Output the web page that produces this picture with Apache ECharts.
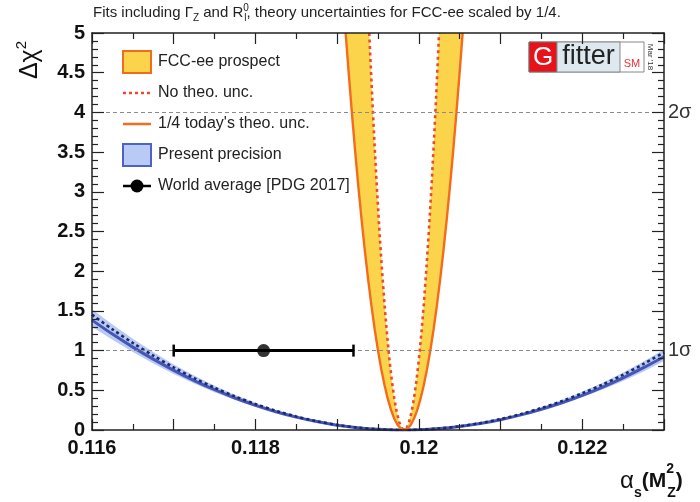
<!DOCTYPE html>
<html><head><meta charset="utf-8">
<script src="https://cdn.jsdelivr.net/npm/echarts@6/dist/echarts.min.js"></script>
<style>html,body{margin:0;padding:0;background:#fff}#c{width:700px;height:502px}</style>
</head><body><div id="c"></div>
<script>
// ---------------- data ----------------
// FCC-ee prospect, "1/4 today's theo. unc." (solid orange, outer curve)
const fccSolidX = [0.119104,0.11914,0.11918,0.11922,0.11926,0.11930,0.11934,0.11938,0.11942,0.11946,0.11950,0.11954,0.11958,0.11962,0.11966,0.11970,0.11974,0.11978,0.11982,0.11986,0.11990,0.11994,0.11998,0.12002,0.12006,0.12010,0.12014,0.12018,0.12022,0.12026,0.12030,0.12034,0.12038,0.12042,0.12046,0.12050,0.120536];
const fccSolidY = [5.0,4.516,4.0,3.516,3.063,2.641,2.25,1.891,1.563,1.266,1.0,0.766,0.563,0.391,0.25,0.141,0.063,0.016,0,0.016,0.063,0.141,0.25,0.391,0.563,0.766,1.0,1.266,1.563,1.891,2.25,2.641,3.063,3.516,4.0,4.516,5.0];
// FCC-ee prospect, "No theo. unc." (dotted, inner curve)
const fccDotX = [0.119393,0.11940,0.11943,0.11946,0.11949,0.11952,0.11955,0.11958,0.11961,0.11964,0.11967,0.11970,0.11973,0.11976,0.11979,0.11982,0.11985,0.11988,0.11991,0.11994,0.11997,0.12000,0.12003,0.12006,0.12009,0.12012,0.12015,0.12018,0.12021,0.12024,0.120247];
const fccDotY = [5.0,4.835,4.169,3.553,2.985,2.467,1.998,1.579,1.209,0.888,0.617,0.395,0.222,0.099,0.025,0,0.025,0.099,0.222,0.395,0.617,0.888,1.209,1.579,1.998,2.467,2.985,3.553,4.169,4.835,5.0];
// Present precision
const presentX = [0.11600,0.11625,0.11650,0.11675,0.11700,0.11725,0.11750,0.11775,0.11800,0.11825,0.11850,0.11875,0.11900,0.11925,0.11950,0.11975,0.12000,0.12025,0.12050,0.12075,0.12100,0.12125,0.12150,0.12175,0.12200,0.12225,0.12250,0.12275,0.12300];
const presentSolidY = [1.384,1.208,1.044,0.892,0.751,0.623,0.507,0.403,0.311,0.230,0.162,0.106,0.061,0.029,0.009,0.0002,0.0036,0.018,0.044,0.081,0.130,0.190,0.261,0.343,0.437,0.541,0.657,0.785,0.923];
const presentDotY = [1.453,1.268,1.096,0.937,0.789,0.654,0.532,0.423,0.327,0.242,0.170,0.111,0.064,0.030,0.009,0.0002,0.0038,0.019,0.047,0.086,0.138,0.201,0.277,0.364,0.463,0.573,0.696,0.832,0.978];
const presentBandLo = [1.301,1.136,0.981,0.838,0.706,0.586,0.477,0.379,0.292,0.216,0.152,0.100,0.057,0.027,0.008,0.0002,0.0034,0.017,0.041,0.076,0.122,0.179,0.245,0.322,0.411,0.509,0.618,0.738,0.868];
const presentBandHi = [1.522,1.329,1.148,0.981,0.826,0.685,0.558,0.443,0.342,0.253,0.178,0.117,0.067,0.032,0.010,0.0002,0.004,0.020,0.048,0.089,0.143,0.209,0.287,0.377,0.481,0.595,0.723,0.864,1.015];
// World average [PDG 2017]
const worldAvgX = [0.1181];
const worldAvgLo = [0.1170];
const worldAvgHi = [0.1192];
const worldAvgY = [1];
// sigma reference levels
const sigmaLevels = [1, 4];
const sigmaLabels = ['1σ', '2σ'];
// legend entries
const legendNames = ['FCC-ee prospect', 'No theo. unc.', "1/4 today's theo. unc.", 'Present precision', 'World average [PDG 2017]'];

// ---------------- styling ----------------
const C = {
  yellow: '#fcd44c', orange: '#f36c1e', dotOrange: '#ea4b2b',
  blueBand: '#b9cbf4', blue: '#4656b8', blueDot: '#1c2a6c', legBlueBorder: '#4d62c4',
  axis: '#222'
};
const FONT = "'Liberation Sans', Arial, Helvetica, sans-serif";
const NARROW = "'Liberation Sans Narrow', 'Arial Narrow', 'Liberation Sans', sans-serif";

const zip = (xs, ys) => xs.map((x, i) => [x, ys[i]]);

function bandSeries(name, xs1, ys1, xs2, ys2, fill, z) {
  return {
    type: 'custom', name, coordinateSystem: 'cartesian2d', z, silent: true,
    data: [[xs1[0], ys1[0]]],
    renderItem(params, api) {
      const pts = [];
      for (let i = 0; i < xs1.length; i++) pts.push(api.coord([xs1[i], ys1[i]]));
      for (let i = xs2.length - 1; i >= 0; i--) pts.push(api.coord([xs2[i], ys2[i]]));
      return { type: 'polygon', shape: { points: pts }, style: { fill: fill, stroke: null } };
    }
  };
}

const tickCommon = (showLabel) => ({
  type: 'value', min: 0.116, max: 0.123, interval: 0.001,
  axisLine: { show: true, onZero: false, lineStyle: { color: C.axis, width: 1.5 } },
  axisTick: { show: true, inside: true, length: 11, lineStyle: { color: C.axis, width: 1.2 } },
  minorTick: { show: true, splitNumber: 2, length: 6, lineStyle: { color: C.axis, width: 1.2 } },
  splitLine: { show: false }, minorSplitLine: { show: false },
  axisLabel: {
    show: showLabel, margin: 8, color: '#111', fontFamily: FONT, fontWeight: 'bold', fontSize: 20,
    formatter: v => (Math.round(v * 1000) % 2 === 0 ? String(parseFloat(v.toFixed(3))) : '')
  }
});
const yCommon = (showLabel) => ({
  type: 'value', min: 0, max: 5, interval: 0.5,
  axisLine: { show: true, onZero: false, lineStyle: { color: C.axis, width: 1.5 } },
  axisTick: { show: true, inside: true, length: 12, lineStyle: { color: C.axis, width: 1.2 } },
  minorTick: { show: true, splitNumber: 5, length: 6, lineStyle: { color: C.axis, width: 1.2 } },
  splitLine: { show: false }, minorSplitLine: { show: false },
  axisLabel: { show: showLabel, margin: 7, color: '#111', fontFamily: FONT, fontWeight: 'bold', fontSize: 20 }
});

// ---------------- legend (graphic) ----------------
const LX = 123, LT = 62, LS = 31, TX = 158;
const legendGraphics = [];
legendGraphics.push({ type: 'rect', shape: { x: LX, y: LT - 11, width: 28, height: 22 }, style: { fill: C.yellow, stroke: C.orange, lineWidth: 2 } });
legendGraphics.push({ type: 'line', shape: { x1: LX, y1: LT + LS, x2: LX + 28, y2: LT + LS }, style: { stroke: C.dotOrange, lineWidth: 2.5, lineDash: [3, 3] } });
legendGraphics.push({ type: 'line', shape: { x1: LX, y1: LT + 2 * LS, x2: LX + 28, y2: LT + 2 * LS }, style: { stroke: C.orange, lineWidth: 2.5 } });
legendGraphics.push({ type: 'rect', shape: { x: LX, y: LT + 3 * LS - 11, width: 28, height: 22 }, style: { fill: C.blueBand, stroke: C.legBlueBorder, lineWidth: 2 } });
legendGraphics.push({ type: 'line', shape: { x1: LX, y1: LT + 4 * LS, x2: LX + 28, y2: LT + 4 * LS }, style: { stroke: '#000', lineWidth: 2.5 } });
legendGraphics.push({ type: 'circle', shape: { cx: LX + 14, cy: LT + 4 * LS, r: 6.5 }, style: { fill: '#000' } });
legendNames.forEach((n, i) => legendGraphics.push({
  type: 'text', x: TX, y: LT + i * LS,
  style: { text: n, fill: '#222', font: '16px ' + FONT, verticalAlign: 'middle', align: 'left' }
}));

// ---------------- logo ----------------
const logo = [
  { type: 'rect', shape: { x: 529, y: 42, width: 115, height: 30 }, style: { fill: '#fff', stroke: '#888', lineWidth: 1 } },
  { type: 'rect', shape: { x: 529, y: 42, width: 28, height: 30 }, style: { fill: '#e8121b', stroke: '#777', lineWidth: 1 } },
  { type: 'text', x: 543, y: 57.5, style: { text: 'G', fill: '#fff', font: '26px ' + FONT, align: 'center', verticalAlign: 'middle' } },
  { type: 'rect', shape: { x: 557, y: 42, width: 63, height: 30 }, style: { fill: '#dde9ee', stroke: '#888', lineWidth: 1 } },
  { type: 'text', x: 588.5, y: 57, style: { text: 'fitter', fill: '#222', font: '27px ' + FONT, align: 'center', verticalAlign: 'middle' } },
  { type: 'text', x: 632, y: 64, style: { text: 'SM', fill: '#e8303a', font: '11px ' + FONT, align: 'center', verticalAlign: 'middle' } },
  { type: 'text', x: 650, y: 57, rotation: -Math.PI / 2, style: { text: "Mar '18", fill: '#333', font: '8px ' + FONT, align: 'center', verticalAlign: 'middle' } }
];

// ---------------- titles ----------------
const texts = [
  { type: 'text', left: 93, top: 3, style: {
      text: 'Fits including Γ{sub|Z} and R{sup|0}{sub|l}, theory uncertainties for FCC-ee scaled by 1/4.',
      fill: '#222', font: '15px ' + NARROW, lineHeight: 20,
      rich: { sub: { fontSize: 10, fontFamily: NARROW, verticalAlign: 'bottom', lineHeight: 20, fill: '#222' },
              sup: { fontSize: 10, fontFamily: NARROW, verticalAlign: 'top', lineHeight: 20, fill: '#222', width: 1 } }
  } },
  { type: 'text', x: 30, y: 60, rotation: Math.PI / 2, style: {
      text: 'Δχ{s|2}', fill: '#111', font: '25px ' + FONT, align: 'center', verticalAlign: 'middle', lineHeight: 32,
      rich: { s: { fontSize: 15, fontFamily: FONT, verticalAlign: 'top', lineHeight: 32, fill: '#111' } }
  } },
  { type: 'text', left: 620, top: 462, style: {
      text: '{a|α}{s|s}{b|(M}{sup|2}{sub|Z}{b|)}', fill: '#111', lineHeight: 38,
      rich: {
        a: { fontSize: 24, fontFamily: FONT, fill: '#111', lineHeight: 38 },
        s: { fontSize: 14, fontFamily: FONT, fontWeight: 'bold', fill: '#111', verticalAlign: 'bottom', lineHeight: 34 },
        b: { fontSize: 21, fontFamily: FONT, fontWeight: 'bold', fill: '#111', lineHeight: 38 },
        sup: { fontSize: 14, fontFamily: FONT, fontWeight: 'bold', fill: '#111', verticalAlign: 'top', lineHeight: 38, width: 1 },
        sub: { fontSize: 14, fontFamily: FONT, fontWeight: 'bold', fill: '#111', verticalAlign: 'bottom', lineHeight: 38 }
      }
  } }
];

const chart = echarts.init(document.getElementById('c'), null, { renderer: 'canvas' });
chart.setOption({
  animation: false,
  backgroundColor: '#fff',
  grid: { left: 92, right: 36, top: 33, bottom: 72, containLabel: false },
  xAxis: [Object.assign(tickCommon(true), { position: 'bottom', z: 8 }), Object.assign(tickCommon(false), { position: 'top', z: 8 })],
  yAxis: [Object.assign(yCommon(true), { position: 'left', z: 8 }), Object.assign(yCommon(false), { position: 'right', z: 8 })],
  series: [
    bandSeries('FCC-ee prospect', fccSolidX, fccSolidY, fccDotX, fccDotY, C.yellow, 1),
    bandSeries('Present precision', presentX, presentBandLo, presentX, presentBandHi, C.blueBand, 1),
    { type: 'line', name: 'Present precision (theo.)', data: zip(presentX, presentSolidY), smooth: 0.3, symbol: 'none', z: 3,
      lineStyle: { color: C.blue, width: 3 } },
    { type: 'line', name: 'Present precision (no theo.)', data: zip(presentX, presentDotY), smooth: 0.3, symbol: 'none', z: 3,
      lineStyle: { color: C.blueDot, width: 2.6, type: [3, 3] } },
    { type: 'line', name: 'No theo. unc.', data: zip(fccDotX, fccDotY), symbol: 'none', z: 4,
      lineStyle: { color: C.dotOrange, width: 2.6, type: [3, 3.5] } },
    { type: 'line', name: "1/4 today's theo. unc.", data: zip(fccSolidX, fccSolidY), symbol: 'none', z: 4,
      lineStyle: { color: C.orange, width: 2.4 } },
    { type: 'custom', name: 'World average error', coordinateSystem: 'cartesian2d', z: 5, silent: true,
      data: worldAvgX.map((x, i) => [worldAvgLo[i], worldAvgHi[i], worldAvgY[i]]),
      encode: { x: [0, 1], y: 2 },
      renderItem(params, api) {
        const a = api.coord([api.value(0), api.value(2)]);
        const b = api.coord([api.value(1), api.value(2)]);
        const st = { stroke: '#000', lineWidth: 3 };
        return { type: 'group', children: [
          { type: 'line', shape: { x1: a[0], y1: a[1], x2: b[0], y2: b[1] }, style: st },
          { type: 'line', shape: { x1: a[0], y1: a[1] - 6, x2: a[0], y2: a[1] + 6 }, style: { stroke: '#000', lineWidth: 2.5 } },
          { type: 'line', shape: { x1: b[0], y1: b[1] - 6, x2: b[0], y2: b[1] + 6 }, style: { stroke: '#000', lineWidth: 2.5 } }
        ] };
      } },
    { type: 'scatter', name: 'World average [PDG 2017]', data: zip(worldAvgX, worldAvgY), symbol: 'circle', symbolSize: 13, z: 6,
      itemStyle: { color: '#000' } },
    { type: 'line', name: 'sigma', data: [], z: 7, silent: true,
      markLine: { silent: true, symbol: 'none', animation: false,
        lineStyle: { color: '#8a8a8a', type: [4, 3], width: 1.2 },
        label: { show: true, position: 'end', distance: 4, color: '#333', fontSize: 20, fontFamily: FONT },
        data: sigmaLevels.map((v, i) => ({ yAxis: v, label: { formatter: sigmaLabels[i] } })) } }
  ],
  graphic: { elements: [].concat(legendGraphics, logo, texts) }
});
</script>
</body></html>
